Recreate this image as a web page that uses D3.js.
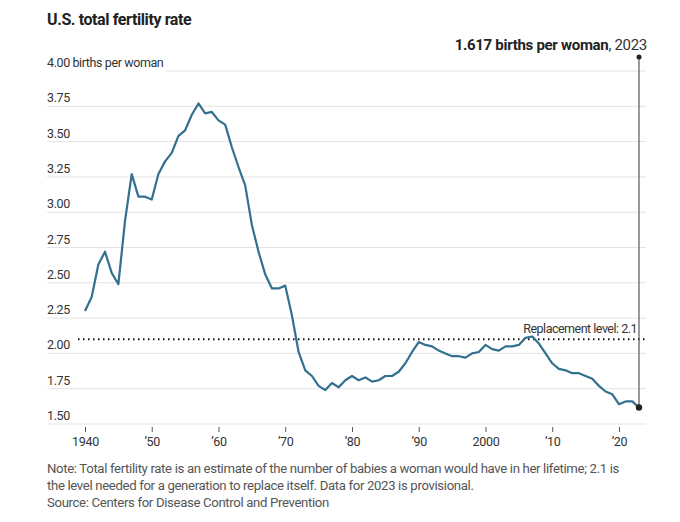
<!DOCTYPE html>
<html>
<head>
<meta charset="utf-8">
<script src="https://cdn.jsdelivr.net/npm/d3@7"></script>
<style>
  body { margin: 0; background: #fff; }
  svg { display: block; font-family: Roboto, sans-serif; }
</style>
</head>
<body>
<svg id="chart" width="680" height="522"></svg>
<script>
// total fertility rate, births per woman
const years = d3.range(1940, 2024);
const rates = [
  2.30, 2.40, 2.63, 2.72, 2.57, 2.49, 2.94, 3.27, 3.11, 3.11,
  3.09, 3.27, 3.36, 3.42, 3.54, 3.58, 3.69, 3.77, 3.70, 3.71,
  3.65, 3.62, 3.46, 3.32, 3.19, 2.91, 2.72, 2.56, 2.46, 2.46,
  2.48, 2.27, 2.01, 1.88, 1.84, 1.77, 1.74, 1.79, 1.76, 1.81,
  1.84, 1.81, 1.83, 1.80, 1.81, 1.84, 1.84, 1.87, 1.93, 2.01,
  2.08, 2.06, 2.05, 2.02, 2.00, 1.98, 1.98, 1.97, 2.00, 2.01,
  2.06, 2.03, 2.02, 2.05, 2.05, 2.06, 2.11, 2.12, 2.07, 2.00,
  1.93, 1.89, 1.88, 1.86, 1.86, 1.84, 1.82, 1.77, 1.73, 1.71,
  1.64, 1.66, 1.66, 1.617
];
const yTicks = [1.5, 1.75, 2, 2.25, 2.5, 2.75, 3, 3.25, 3.5, 3.75, 4];
const xTicks = [1940, 1950, 1960, 1970, 1980, 1990, 2000, 2010, 2020];
const xTickLabels = ["1940", "\u201950", "\u201960", "\u201970", "\u201980", "\u201990", "2000", "\u201910", "\u201920"];
const replacement = 2.1;

const data = years.map((y, i) => ({ year: y, rate: rates[i] }));
const last = data[data.length - 1];

const svg = d3.select("#chart");
const left = 47, right = 646;

const x = d3.scaleLinear().domain([1940, 2023]).range([85, 639]);
const y = d3.scaleLinear().domain([1.5, 4]).range([424, 71]);

// title
svg.append("text")
  .attr("x", left).attr("y", 25)
  .attr("font-size", 16).attr("font-weight", "bold")
  .attr("letter-spacing", -0.4)
  .attr("fill", "#222")
  .text("U.S. total fertility rate");

// gridlines + y labels
const grid = svg.append("g");
const gridLines = grid.selectAll("line")
  .data(yTicks)
  .join("line")
  .attr("x1", left)
  .attr("x2", right)
  .attr("y1", d => y(d)).attr("y2", d => y(d))
  .attr("stroke", "#e3e3e3").attr("stroke-width", 1);

const yLabels = grid.selectAll("text")
  .data(yTicks)
  .join("text")
  .attr("x", left)
  .attr("y", d => y(d) - 4)
  .attr("font-size", 12.5)
  .attr("letter-spacing", -0.4)
  .attr("fill", "#333")
  .text(d => d3.format(".2f")(d) + (d === 4 ? " births per woman" : ""));

// top gridline starts after its long label
const topLabel = yLabels.filter(d => d === 4).node();
gridLines.filter(d => d === 4)
  .attr("x1", left + topLabel.getComputedTextLength() + 2);

// x axis ticks
const xAxis = svg.append("g").attr("transform", "translate(0,427)")
  .call(d3.axisBottom(x).tickValues(xTicks).tickSize(5)
    .tickFormat((d, i) => xTickLabels[i]));
xAxis.select(".domain").remove();
xAxis.selectAll(".tick line").attr("stroke", "#555");
xAxis.selectAll(".tick text")
  .attr("font-size", 12.5).attr("fill", "#333")
  .attr("letter-spacing", -0.3)
  .attr("font-family", "Roboto, sans-serif")
  .attr("dy", "0.9em");

// replacement level
svg.append("line")
  .attr("x1", 78).attr("x2", right)
  .attr("y1", y(replacement)).attr("y2", y(replacement))
  .attr("stroke", "#111").attr("stroke-width", 2)
  .attr("stroke-dasharray", "1.5,3.5");
svg.append("text")
  .attr("x", 637).attr("y", y(replacement) - 6)
  .attr("text-anchor", "end")
  .attr("font-size", 12.5).attr("fill", "#333")
  .attr("letter-spacing", -0.5)
  .text("Replacement level: 2.1");

// the line
const line = d3.line().x(d => x(d.year)).y(d => y(d.rate));
svg.append("path")
  .datum(data)
  .attr("d", line)
  .attr("fill", "none")
  .attr("stroke", "#33708f")
  .attr("stroke-width", 2.2)
  .attr("stroke-linejoin", "round");

// 2023 annotation
svg.append("line")
  .attr("x1", x(last.year)).attr("x2", x(last.year))
  .attr("y1", 57).attr("y2", y(last.rate))
  .attr("stroke", "#555").attr("stroke-width", 1.2);
svg.selectAll("circle.dot")
  .data([57, y(last.rate)])
  .join("circle")
  .attr("class", "dot")
  .attr("cx", x(last.year)).attr("cy", d => d)
  .attr("r", d => d === 57 ? 2.5 : 3.2)
  .attr("fill", "#222");

const ann = svg.append("text")
  .attr("x", 647).attr("y", 50)
  .attr("text-anchor", "end")
  .attr("font-size", 15).attr("fill", "#222")
  .attr("letter-spacing", -0.3);
ann.append("tspan").attr("font-weight", "bold").text("1.617 births per woman");
ann.append("tspan").attr("fill", "#333").text(", 2023");

// notes
const notes = [
  "Note: Total fertility rate is an estimate of the number of babies a woman would have in her lifetime; 2.1 is",
  "the level needed for a generation to replace itself. Data for 2023 is provisional.",
  "Source: Centers for Disease Control and Prevention"
];
svg.append("g").selectAll("text")
  .data(notes)
  .join("text")
  .attr("x", left)
  .attr("y", (d, i) => 473 + i * 17)
  .attr("font-size", 13.2).attr("fill", "#555")
  .attr("letter-spacing", -0.35)
  .text(d => d);
</script>
</body>
</html>
